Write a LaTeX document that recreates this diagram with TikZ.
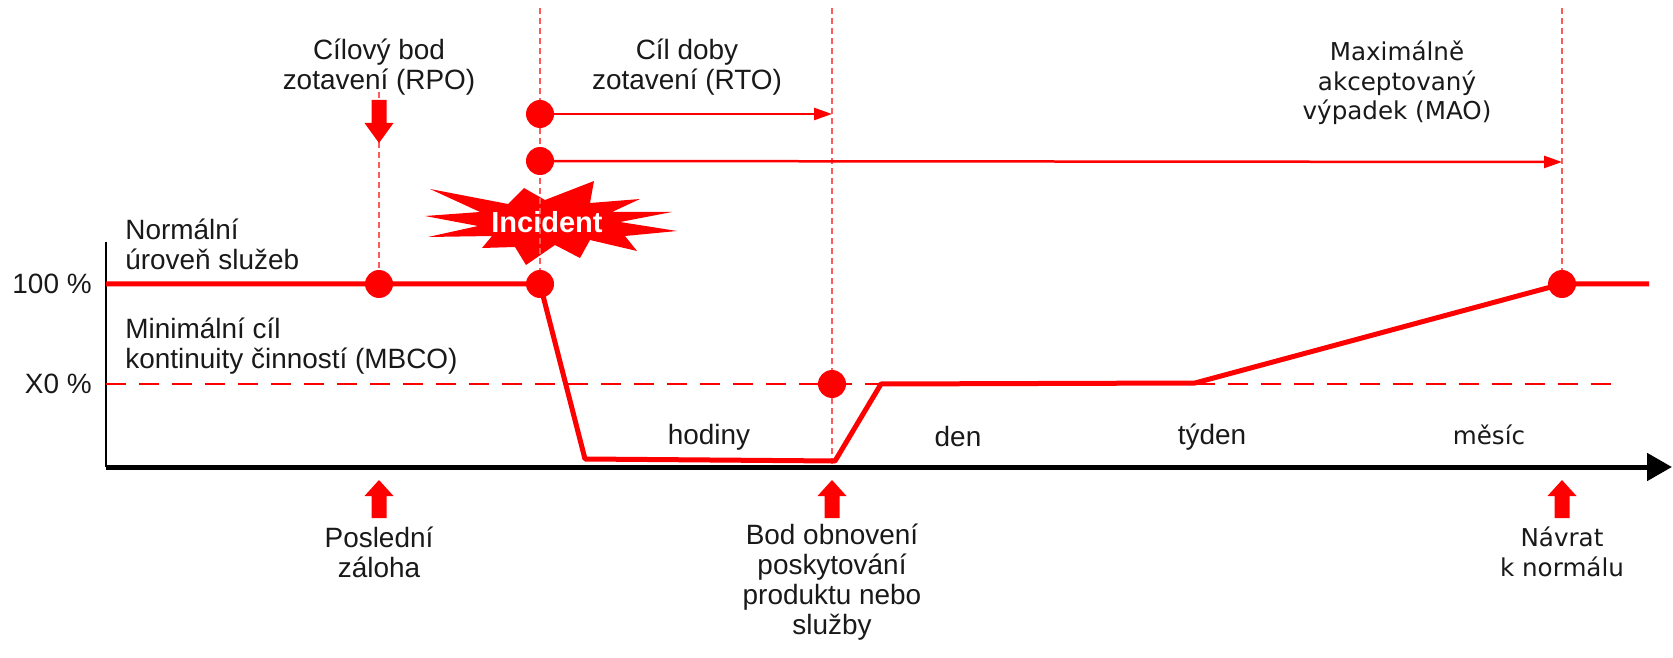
\documentclass[tikz,border=0pt]{standalone}
\usepackage{fontspec}
\setmainfont{Liberation Sans}
\newfontfamily\dvs{DejaVu Sans}
\usetikzlibrary{arrows.meta}
\definecolor{rd}{RGB}{255,0,0}
\definecolor{guide}{RGB}{255,90,90}
\definecolor{tx}{RGB}{25,25,25}
\begin{document}
\begin{tikzpicture}[x=0.02cm,y=-0.02cm,
  lbl/.style={font=\fontsize{15.9}{17}\selectfont, text=tx, align=center, inner sep=0pt},
  lbll/.style={font=\fontsize{15.9}{17}\selectfont, text=tx, align=left, inner sep=0pt, anchor=west},
  lbld/.style={font=\dvs\fontsize{14}{16.8}\selectfont, text=tx, align=center, inner sep=0pt},
  dot/.style={circle, fill=rd, inner sep=0pt, minimum size=0.56cm},
  vguide/.style={draw=guide, line width=0.6pt, dash pattern=on 0.12cm off 0.08cm},
  svc/.style={draw=rd, line width=0.1cm, line join=round},
  mbco/.style={draw=rd, line width=0.05cm, dash pattern=on 0.4cm off 0.26cm},
  spanarrow/.style={draw=rd, line width=0.05cm, -{Triangle[length=0.36cm,width=0.24cm]}},
  upblk/.pic={\fill[rd] (-7.5,38) -- (-7.5,16) -- (-14.5,16) -- (0,0) -- (14.5,16) -- (7.5,16) -- (7.5,38) -- cycle;},
  downblk/.pic={\fill[rd] (-7.5,-43) -- (7.5,-43) -- (7.5,-20) -- (14.5,-20) -- (0,0) -- (-14.5,-20) -- (-7.5,-20) -- cycle;}]
\useasboundingbox (0,0) rectangle (1673,658);

% coordinates
\coordinate (o) at (106,467);
\coordinate (ytop) at (106,242);
\coordinate (axend) at (1672,467);
\coordinate (s0) at (106,284);
\coordinate (pRPO) at (379,284);
\coordinate (pINC) at (540,284);
\coordinate (s1) at (585,459);
\coordinate (s2) at (835,461);
\coordinate (s3) at (881,384);
\coordinate (s4) at (1195,383);
\coordinate (pMAO) at (1562,284);
\coordinate (s5) at (1649,284);
\coordinate (pRTO) at (832,384);
\coordinate (m0) at (106,384);
\coordinate (m1) at (1613,384);
\coordinate (rtoS) at (540,114);
\coordinate (rtoE) at (832,114);
\coordinate (maoS) at (540,161);
\coordinate (maoE) at (1562,162);

% incident star
\fill[rd] (430,189) -- (508,204) -- (524,188) -- (545,200) -- (594,181) -- (590,203)
  -- (640,199) -- (612,212) -- (672,212) -- (620,222) -- (677,231) -- (625,236)
  -- (637,251) -- (590,240) -- (580,258) -- (555,245) -- (526,265) -- (515,247)
  -- (482,248) -- (492,236) -- (428,237) -- (478,226) -- (425,216) -- (480,212) -- cycle;

% guides
\draw[vguide] (379,92) -- (pRPO);
\draw[vguide] (540,8) -- (pINC);
\draw[vguide] (832,8) -- (832,467);
\draw[vguide] (1562,8) -- (pMAO);

\node[font=\bfseries\fontsize{16.5}{18}\selectfont, text=white, inner sep=0pt] (inc) at (547,222) {Incident};

% axes
\draw[line width=0.035cm, draw=black] (ytop) -- (o);
\draw[line width=0.1cm, draw=black, -{Triangle[length=0.5cm,width=0.54cm]}] (o) -- (axend);

% MBCO dashed level
\draw[mbco] (m0) -- (m1);

% service level line
\draw[svc] (s0) -- (pRPO) -- (pINC) -- (s1) -- (s2) -- (s3) -- (s4) -- (pMAO) -- (s5);

% span arrows
\draw[spanarrow] (rtoS) -- (rtoE);
\draw[spanarrow] (maoS) -- (maoE);

% dots
\node[dot] (dRPO) at (pRPO) {};
\node[dot] (dINC) at (pINC) {};
\node[dot] (dRTOs) at (rtoS) {};
\node[dot] (dMAOs) at (maoS) {};
\node[dot] (dRTO) at (pRTO) {};
\node[dot] (dMAO) at (pMAO) {};

% block arrows
\pic at (379,143) {downblk};
\pic at (379,480) {upblk};
\pic at (832,480) {upblk};
\pic at (1562,480) {upblk};

% labels
\node[lbl] (tRPO) at (379,67) {Cílový bod\\zotavení (RPO)};
\node[lbl] (tRTO) at (687,67) {Cíl doby\\zotavení (RTO)};
\node[lbld] (tMAO) at (1397,83) {Maximálně\\akceptovaný\\výpadek (MAO)};
\node[lbll] (tNorm) at (125,244) {Normální\\úroveň služeb};
\node[lbll] (tMin) at (125,346) {Minimální cíl\\kontinuity činností (MBCO)};
\node[lbl, anchor=east] (t100) at (92,284) {100 \%};
\node[lbl, anchor=east] (tX0) at (92,384) {X0 \%};
\node[lbl] (tHod) at (709,437) {hodiny};
\node[lbl] (tDen) at (958,437) {den};
\node[lbl] (tTyd) at (1212,437) {týden};
\node[lbld] (tMes) at (1489,435) {měsíc};
\node[lbl] (tPos) at (379,552) {Poslední\\záloha};
\node[lbl] (tBod) at (832,582) {Bod obnovení\\poskytování\\produktu nebo\\služby};
\node[lbld] (tNav) at (1562,552) {Návrat\\k normálu};
\end{tikzpicture}
\end{document}
